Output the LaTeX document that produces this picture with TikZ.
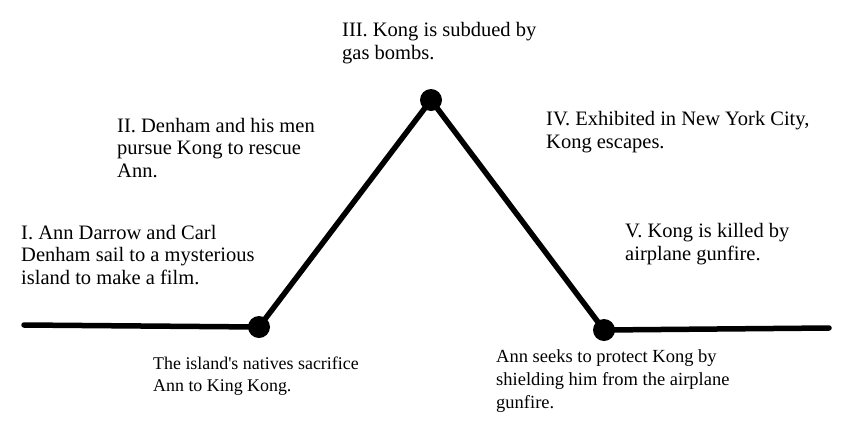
\documentclass[tikz,border=0pt]{standalone}
\usepackage{fontspec}
\setmainfont{Liberation Serif}
\begin{document}
\begin{tikzpicture}[x=1pt,y=-1pt,
  plotline/.style={line width=5.5pt,line cap=round,black},
  dotnode/.style={circle,fill=black,inner sep=0pt,minimum size=22pt},
  lbl/.style={anchor=west,align=left,inner sep=0pt,font=\fontsize{20.5}{22.5}\selectfont},
  lblleft/.style={anchor=west,align=left,inner sep=0pt,font=\fontsize{17.9}{22}\selectfont},
  lblright/.style={anchor=west,align=left,inner sep=0pt,font=\fontsize{18.5}{23}\selectfont}]
\useasboundingbox (0,0) rectangle (841,421);
\coordinate (start) at (24,325);
\coordinate (finish) at (829,328);
\node[dotnode] (d1) at (259,327) {};
\node[dotnode] (d2) at (431,100) {};
\node[dotnode] (d3) at (604,330) {};
\draw[plotline] (start) -- (d1.center) -- (d2.center) -- (d3.center) -- (finish);
\node[lbl] (t1) at (21,255) {I. Ann Darrow and Carl\\Denham sail to a mysterious\\island to make a film.};
\node[lbl] (t2) at (117,148) {II. Denham and his men\\pursue Kong to rescue\\Ann.};
\node[lbl] (t3) at (342,43) {III. Kong is subdued by\\gas bombs.};
\node[lbl] (t4) at (546,132) {IV. Exhibited in New York City,\\Kong escapes.};
\node[lbl] (t5) at (625,244) {V. Kong is killed by\\airplane gunfire.};
\node[lblleft] (b1) at (153,376) {The island\textquotesingle s natives sacrifice\\Ann to King Kong.};
\node[lblright] (b2) at (496,381) {Ann seeks to protect Kong by\\shielding him from the airplane\\gunfire.};
\end{tikzpicture}
\end{document}
